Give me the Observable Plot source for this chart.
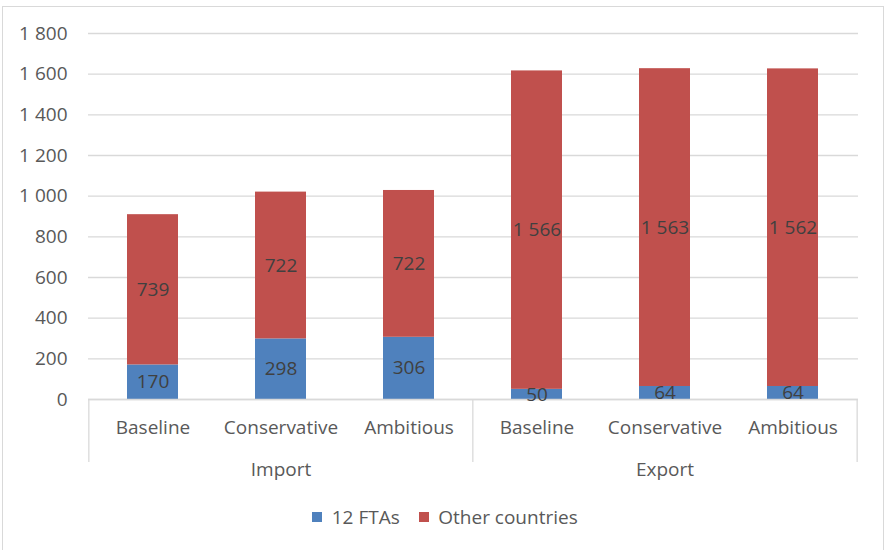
<!DOCTYPE html>
<html><head><meta charset="utf-8">
<script src="https://cdn.jsdelivr.net/npm/d3@7"></script>
<script src="https://cdn.jsdelivr.net/npm/@observablehq/plot@0.6"></script>
<style>
body{margin:0;background:#fff;width:885px;height:550px;overflow:hidden;position:relative;}
#frame{position:absolute;left:2px;top:6px;width:882px;height:560px;border:1px solid #d9d9d9;box-sizing:border-box;}
#chart{position:absolute;left:0;top:0;}
#legend{position:absolute;top:500px;left:0;width:885px;padding-left:24px;box-sizing:border-box;display:flex;justify-content:center;}
</style></head><body>
<div id="frame"></div>
<div id="chart"></div>
<div id="legend"></div>
<script>
const groups = ["Import", "Export"];
const scenarios = ["Baseline", "Conservative", "Ambitious"];
const seriesNames = ["12 FTAs", "Other countries"];
const ftas = [170, 298, 306, 50, 64, 64];
const others = [739, 722, 722, 1566, 1563, 1562];
const yTicks = [0, 200, 400, 600, 800, 1000, 1200, 1400, 1600, 1800];
const colors = ["#4F81BD", "#C0504D"];

const fmt = d3.formatLocale({decimal: ",", thousands: "\u00a0", grouping: [3], currency: ["", ""]}).format(",d");

const cats = [];
groups.forEach(g => scenarios.forEach(s => cats.push({group: g, scenario: s, key: g + "|" + s})));
const rows = [];
cats.forEach((c, i) => {
  rows.push({key: c.key, series: seriesNames[0], value: ftas[i]});
  rows.push({key: c.key, series: seriesNames[1], value: others[i]});
});
const groupMids = groups.map(g => {
  const gc = cats.filter(c => c.group === g);
  return {group: g, key: gc[Math.floor(gc.length / 2)].key};
});
const groupFirsts = groups.map(g => cats.find(c => c.group === g).key);
const lastKey = [cats[cats.length - 1].key];

const W = 885, H = 490, mL = 88, mR = 27, mT = 33, mB = 91;
const step = (W - mL - mR) / cats.length;
const plotH = H - mT - mB;
const font = "'Open Sans', sans-serif";
const sepStroke = "#d9d9d9";
const fs = 19;

const chart = Plot.plot({
  width: W, height: H,
  marginLeft: mL, marginRight: mR, marginTop: mT, marginBottom: mB,
  style: {fontFamily: font, fontSize: fs + "px", color: "#595959", background: "transparent", overflow: "visible"},
  x: {domain: cats.map(c => c.key), paddingInner: 0.6, paddingOuter: 0.3, axis: null},
  y: {domain: [0, 1800], axis: null},
  color: {domain: seriesNames, range: colors},
  marks: [
    Plot.gridY(yTicks, {stroke: "#d9d9d9", strokeOpacity: 1, strokeWidth: 1.3}),
    Plot.axisY(yTicks, {tickSize: 0, tickPadding: 21, tickFormat: fmt, label: null, fontSize: fs, fill: "#595959"}),
    Plot.barY(rows, {x: "key", y: "value", fill: "series"}),
    Plot.ruleY([0], {stroke: sepStroke, strokeWidth: 1.3}),
    Plot.ruleX(groupFirsts, {x: d => d, dx: -step / 2, insetTop: plotH, insetBottom: -63, stroke: sepStroke, strokeWidth: 1.3}),
    Plot.ruleX(lastKey, {x: d => d, dx: step / 2, insetTop: plotH, insetBottom: -63, stroke: sepStroke, strokeWidth: 1.3}),
    Plot.text(rows, Plot.stackY({x: "key", y: "value", z: "series", text: d => fmt(d.value), fill: "#404040", fontSize: fs})),
    Plot.text(cats, {x: "key", text: "scenario", frameAnchor: "bottom", dy: 34, fill: "#595959", fontSize: fs}),
    Plot.text(groupMids, {x: "key", text: "group", frameAnchor: "bottom", dy: 76, fill: "#595959", fontSize: fs})
  ]
});
document.getElementById("chart").appendChild(chart);

const legend = Plot.legend({
  color: {domain: seriesNames, range: colors},
  swatchSize: 10,
  style: {fontFamily: font, fontSize: fs + "px", color: "#595959", background: "transparent"}
});
document.getElementById("legend").appendChild(legend);
</script>
</body></html>
